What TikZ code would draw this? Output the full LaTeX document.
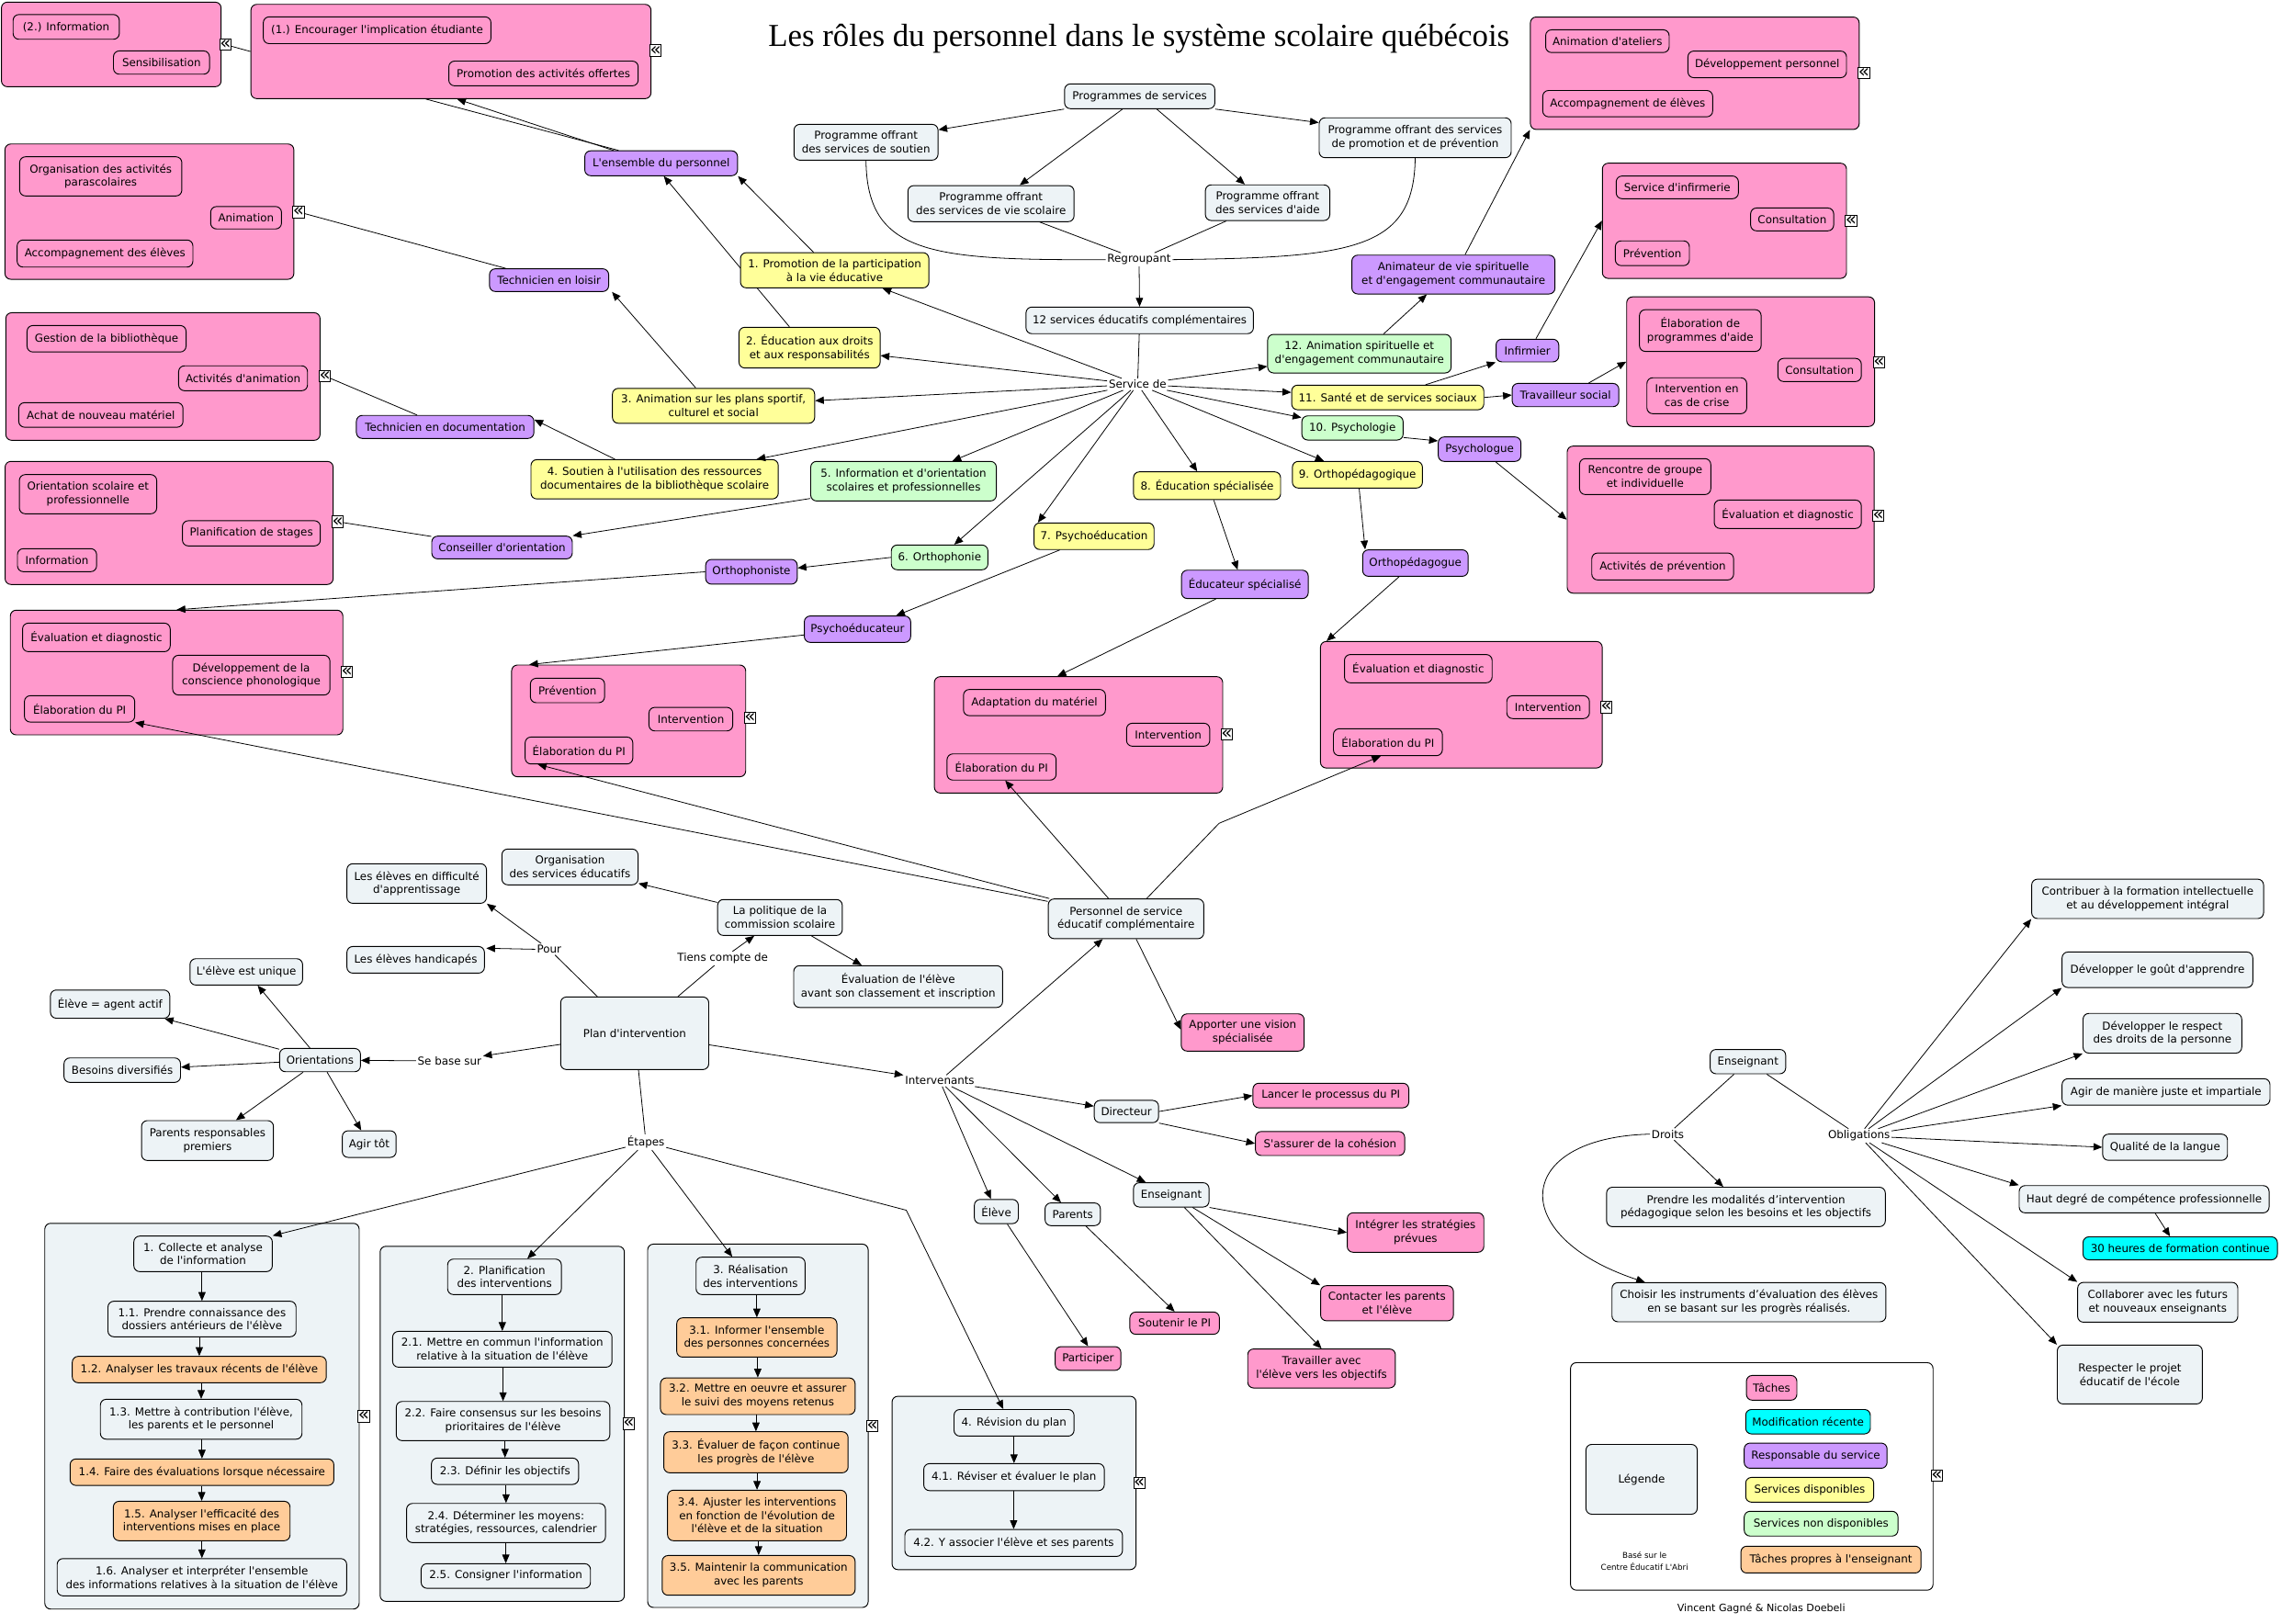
\documentclass[tikz,border=0pt]{standalone}
\usepackage{fontspec}
\setmainfont{DejaVu Sans}
\newfontfamily\titlefont{Liberation Serif}
\usetikzlibrary{arrows.meta,calc}
\pgfdeclarelayer{bg}
\pgfsetlayers{bg,main}
\definecolor{cgrey}{RGB}{237,243,246}
\definecolor{cpink}{RGB}{255,153,204}
\definecolor{cpurple}{RGB}{204,153,255}
\definecolor{cyellow}{RGB}{255,255,153}
\definecolor{cgreen}{RGB}{204,255,204}
\definecolor{corange}{RGB}{255,204,153}
\definecolor{ccyan}{RGB}{0,255,255}
\newcommand\ap{\textquotesingle}
\newcommand\bx[7]{%
  \pgfmathsetmacro\bxw{#5-#3}%
  \pgfmathsetmacro\bxh{#6-#4}%
  \pgfmathsetmacro\bxx{(#3+#5)/2}%
  \pgfmathsetmacro\bxy{(#4+#6)/2}%
  \node[#2,minimum width=\bxw pt,minimum height=\bxh pt] (#1) at (\bxx,\bxy) {#7};}
\newcommand\lb[4]{\node[lbl] (#1) at (#2,#3) {#4};}
\newcommand\ic[3]{\node[icon] (#1) at (#2,#3) {«};}
\newcommand\va[2]{\draw[arr] (#2.north |- #1.south) -- (#2.north);}
\tikzset{
  cpt/.style={draw, line width=0.6pt, rounded corners=4pt, align=center, inner xsep=2pt, inner ysep=1pt, fill=cgrey},
  pinkb/.style={cpt, fill=cpink},
  purb/.style={cpt, fill=cpurple},
  yelb/.style={cpt, fill=cyellow},
  grnb/.style={cpt, fill=cgreen},
  orab/.style={cpt, fill=corange},
  cyab/.style={cpt, fill=ccyan},
  cont/.style={cpt, fill=cpink},
  contg/.style={cpt, fill=cgrey},
  lbl/.style={inner sep=1pt},
  icon/.style={draw, fill=white, line width=0.5pt, inner sep=0pt, minimum width=7pt, minimum height=7.8pt, font=\fontsize{12.5}{12.5}\selectfont},
  arr/.style={line width=0.5pt, -{Triangle[length=6pt,width=5pt]}},
  ln/.style={line width=0.5pt}
}
\begin{document}
\begin{tikzpicture}[x=1pt,y=-1pt, every node/.style={font=\fontsize{7.5}{9.3}\selectfont}]
\useasboundingbox (0,0) rectangle (1568,1116);
\begin{pgfonlayer}{bg}
\fill[white] (0,0) rectangle (1568,1116);
\end{pgfonlayer}
% title
\node[font=\titlefont\fontsize{22}{26}\selectfont, anchor=base, inner sep=0pt] (title) at (782.9,31.6) {Les rôles du personnel dans le système scolaire québécois};
% ---------- top left
\bx{bA}{cont}{1}{1.5}{152}{59.6}{}
\bx{aInf}{pinkb}{9}{10}{82}{27}{(2.) Information}
\bx{aSen}{pinkb}{78}{35}{144}{51}{Sensibilisation}
\ic{icA}{155}{30.7}
\bx{bB}{cont}{172.5}{3}{447.5}{67.8}{}
\bx{bEnc}{pinkb}{181}{11.6}{337.5}{30}{(1.) Encourager l\ap implication étudiante}
\bx{bPro}{pinkb}{308.5}{42}{438.7}{59}{Promotion des activités offertes}
\ic{icB}{450.7}{34.7}
\bx{le}{purb}{402}{103.7}{507}{120.8}{L\ap ensemble du personnel}
\bx{bC}{cont}{3.4}{99}{202}{192}{}
\bx{cOrg}{pinkb}{13.5}{107.8}{125}{134.7}{Organisation des activités\\parascolaires}
\bx{cAni}{pinkb}{144.8}{142}{193.5}{157.4}{Animation}
\bx{cAcc}{pinkb}{11.8}{165}{132.6}{183.6}{Accompagnement des élèves}
\ic{icC}{205.2}{145.7}
\bx{tl}{purb}{336.5}{184.8}{418.4}{200.4}{Technicien en loisir}
\bx{bD}{cont}{4}{215}{220}{302.7}{}
\bx{dGes}{pinkb}{18.6}{223.8}{127.9}{242}{Gestion de la bibliothèque}
\bx{dAct}{pinkb}{122.8}{251.5}{211.4}{268.6}{Activités d\ap animation}
\bx{dAch}{pinkb}{12.9}{276.8}{125.8}{293.7}{Achat de nouveau matériel}
\ic{icD}{223.3}{258.5}
\bx{td}{purb}{245}{285.6}{367}{301.4}{Technicien en documentation}
\bx{bE}{cont}{3.5}{317.2}{229}{401.8}{}
\bx{eOri}{pinkb}{13.3}{326.3}{107.7}{353.2}{Orientation scolaire et\\professionnelle}
\bx{ePla}{pinkb}{125.4}{358}{220.2}{375.3}{Planification de stages}
\bx{eInf}{pinkb}{12}{377.2}{66.4}{393}{Information}
\ic{icE}{232.2}{358.7}
\bx{co}{purb}{296.8}{368.6}{393.4}{384.2}{Conseiller d\ap orientation}
\bx{bF}{cont}{7.1}{419.5}{235.7}{505.2}{}
\bx{fEva}{pinkb}{15.5}{428.4}{117}{448}{Évaluation et diagnostic}
\bx{fDev}{pinkb}{118.7}{450.5}{226.8}{477.8}{Développement de la\\conscience phonologique}
\bx{fEl}{pinkb}{16.8}{478.3}{92.6}{496.4}{Élaboration du PI}
\ic{icF}{238.5}{462}
\bx{oph}{purb}{485.1}{384.6}{548}{401.6}{Orthophoniste}
\bx{pse}{purb}{552.9}{423.5}{626}{441.6}{Psychoéducateur}
\bx{bG}{cont}{351.7}{457.2}{512.6}{534}{}
\bx{gPre}{pinkb}{364.6}{466.3}{415.6}{483.1}{Prévention}
\bx{gInt}{pinkb}{446.1}{486.3}{503.7}{502.5}{Intervention}
\bx{gEl}{pinkb}{361}{506.7}{435}{525.2}{Élaboration du PI}
\ic{icG}{515.5}{493.5}
\bx{bH}{cont}{642.3}{465.2}{840.5}{545.2}{}
\bx{hAda}{pinkb}{662.3}{474}{759.9}{492}{Adaptation du matériel}
\bx{hInt}{pinkb}{774.4}{497.2}{831.6}{513}{Intervention}
\bx{hEl}{pinkb}{651}{518.3}{726}{536.3}{Élaboration du PI}
\ic{icH}{843.3}{505}
\bx{bM}{cont}{907.7}{441}{1101.4}{528}{}
\bx{mEva}{pinkb}{924.2}{450}{1025.7}{469.4}{Évaluation et diagnostic}
\bx{mInt}{pinkb}{1035.8}{478.3}{1092.6}{494}{Intervention}
\bx{mEl}{pinkb}{916.6}{501}{991.5}{519.5}{Élaboration du PI}
\ic{icM}{1104.2}{486.1}
\bx{edu}{purb}{812.2}{392}{899.3}{411.5}{Éducateur spécialisé}
\bx{orp}{purb}{936.7}{378}{1009.2}{396.2}{Orthopédagogue}
% ---------- services
\bx{p1}{yelb}{509}{173.7}{638.5}{197.9}{1. Promotion de la participation\\à la vie éducative}
\bx{e2}{yelb}{508}{225}{605}{253}{2. Éducation aux droits\\et aux responsabilités}
\bx{a3}{yelb}{421}{267}{560}{291}{3. Animation sur les plans sportif,\\culturel et social}
\bx{s4}{yelb}{365}{316}{535}{343}{4. Soutien à l\ap utilisation des ressources\\documentaires de la bibliothèque scolaire}
\bx{i5}{grnb}{557.3}{317.2}{684.9}{344.4}{5. Information et d\ap orientation\\scolaires et professionnelles}
\bx{o6}{grnb}{612.7}{374.7}{679.1}{391.7}{6. Orthophonie}
\bx{p7}{yelb}{710.8}{359.5}{793.3}{377.8}{7. Psychoéducation}
\bx{e8}{yelb}{779.2}{324.4}{880.3}{343.5}{8. Éducation spécialisée}
\bx{o9}{yelb}{888.4}{317.2}{977.8}{335.5}{9. Orthopédagogique}
\bx{p10}{grnb}{894.9}{285.9}{964.5}{302.5}{10. Psychologie}
\bx{s11}{yelb}{887.9}{264.8}{1020}{281.7}{11. Santé et de services sociaux}
\bx{a12}{grnb}{871.4}{229.9}{997.5}{256.4}{12. Animation spirituelle et\\d\ap engagement communautaire}
\bx{anim}{purb}{929.3}{175.4}{1068.9}{202.1}{Animateur de vie spirituelle\\et d\ap engagement communautaire}
\bx{inf}{purb}{1028.4}{233.2}{1071.5}{248.8}{Infirmier}
\bx{ts}{purb}{1039.5}{263.6}{1112.8}{279.6}{Travailleur social}
\bx{psy}{purb}{988.7}{300.4}{1045.5}{317.2}{Psychologue}
\bx{bI}{cont}{1052}{11.7}{1278}{89}{}
\bx{iAni}{pinkb}{1062.5}{20.5}{1147.4}{36.1}{Animation d\ap ateliers}
\bx{iDev}{pinkb}{1160.3}{35.1}{1269.3}{53.4}{Développement personnel}
\bx{iAcc}{pinkb}{1060.5}{62.2}{1177.3}{80.3}{Accompagnement de élèves}
\ic{icI}{1281.2}{50.1}
\bx{bJ}{cont}{1101.5}{112.2}{1269.3}{191.4}{}
\bx{jSer}{pinkb}{1111}{121}{1195}{136.6}{Service d\ap infirmerie}
\bx{jCon}{pinkb}{1203.4}{143}{1260.5}{158.7}{Consultation}
\bx{jPre}{pinkb}{1110.4}{165.6}{1161.3}{182.6}{Prévention}
\ic{icJ}{1272.4}{151.9}
\bx{bK}{cont}{1118.2}{204.1}{1288.6}{293.2}{}
\bx{kEla}{pinkb}{1127}{212.9}{1210.6}{241.6}{Élaboration de\\programmes d\ap aide}
\bx{kCon}{pinkb}{1222.1}{246.4}{1279.5}{262.3}{Consultation}
\bx{kInt}{pinkb}{1132.1}{259.7}{1200.7}{284.4}{Intervention en\\cas de crise}
\ic{icK}{1291.6}{249.1}
\bx{bL}{cont}{1077.3}{306.7}{1288.3}{407.8}{}
\bx{lRen}{pinkb}{1085.8}{315.3}{1176}{340}{Rencontre de groupe\\et individuelle}
\bx{lEva}{pinkb}{1178.4}{343.8}{1279.5}{363.3}{Évaluation et diagnostic}
\bx{lAct}{pinkb}{1094.2}{380.2}{1191.7}{398.7}{Activités de prévention}
\ic{icL}{1291.2}{354.5}
\bx{s12}{cpt}{705.3}{211.1}{861.6}{229.4}{12 services éducatifs complémentaires}
\lb{rg}{783}{178.5}{Regroupant}
\lb{sd}{782}{264.2}{Service de}
\bx{ps}{cpt}{731.8}{57.7}{835.1}{74.7}{Programmes de services}
\bx{sou}{cpt}{545.8}{85.5}{644.8}{110.1}{Programme offrant\\des services de soutien}
\bx{vs}{cpt}{624.1}{127.6}{738.3}{152.4}{Programme offrant\\des services de vie scolaire}
\bx{aid}{cpt}{828.6}{127.1}{914.1}{151.6}{Programme offrant\\des services d\ap aide}
\bx{prom}{cpt}{906.8}{81}{1038.8}{108.4}{Programme offrant des services\\de promotion et de prévention}
% ---------- plan d'intervention
\bx{org}{cpt}{345}{583.7}{438.6}{608.3}{Organisation\\des services éducatifs}
\bx{dif}{cpt}{238.5}{593.8}{334.4}{621}{Les élèves en difficulté\\d\ap apprentissage}
\bx{han}{cpt}{238.5}{650.7}{333}{669}{Les élèves handicapés}
\bx{pol}{cpt}{493.3}{618.4}{579}{643.1}{La politique de la\\commission scolaire}
\bx{ev}{cpt}{545.6}{663.9}{689.2}{692.6}{Évaluation de l\ap élève\\avant son classement et inscription}
\bx{pi}{cpt}{385.4}{685.4}{487.2}{735.3}{Plan d\ap intervention}
\bx{uni}{cpt}{130.6}{659.1}{208}{677.2}{L\ap élève est unique}
\bx{ag}{cpt}{34.7}{680.6}{116.7}{700}{Élève = agent actif}
\bx{ori}{cpt}{192.2}{720.8}{247.8}{736.8}{Orientations}
\bx{bd}{cpt}{44}{727.3}{124.1}{744.1}{Besoins diversifiés}
\bx{prp}{cpt}{97.3}{770.4}{188}{797.8}{Parents responsables\\premiers}
\bx{agt}{cpt}{235.3}{777.4}{272.3}{795.7}{Agir tôt}
\lb{pour}{377.5}{652.6}{Pour}
\lb{tc}{496.8}{658.9}{Tiens compte de}
\lb{sb}{309}{729.4}{Se base sur}
\lb{itv}{646}{743}{Intervenants}
\lb{et}{444}{785.2}{Étapes}
\bx{pers}{cpt}{720.6}{618}{827.5}{645.3}{Personnel de service\\éducatif complémentaire}
\bx{app}{pinkb}{812}{697}{896.5}{722.6}{Apporter une vision\\spécialisée}
\bx{dir}{cpt}{752.2}{756.5}{796.4}{771.8}{Directeur}
\bx{lan}{pinkb}{861.3}{744.7}{968.4}{761.6}{Lancer le processus du PI}
\bx{sas}{pinkb}{863}{777.9}{965.6}{794.4}{S\ap assurer de la cohésion}
\bx{ens}{cpt}{779.2}{813.1}{831.1}{829.8}{Enseignant}
\bx{elv}{cpt}{669.8}{824.6}{700}{841.2}{Élève}
\bx{par}{cpt}{718.4}{827}{756.4}{842.6}{Parents}
\bx{int}{pinkb}{926.1}{833.8}{1020}{860.9}{Intégrer les stratégies\\prévues}
\bx{con}{pinkb}{907.8}{883.9}{999.1}{908}{Contacter les parents\\et l\ap élève}
\bx{spt}{pinkb}{776.7}{902}{838.2}{917.3}{Soutenir le PI}
\bx{ptc}{pinkb}{725.4}{925.8}{770.5}{942.1}{Participer}
\bx{trv}{pinkb}{857.7}{927.4}{959.2}{954.2}{Travailler avec\\l\ap élève vers les objectifs}
% ---------- etapes groups
\bx{g1}{contg}{30.8}{841}{246.9}{1106.2}{}
\ic{icG1}{250}{973.6}
\bx{c1}{cpt}{92}{849.8}{187.2}{874.2}{1. Collecte et analyse\\de l\ap information}
\bx{c11}{cpt}{74.2}{894.6}{203.5}{919}{1.1. Prendre connaissance des\\dossiers antérieurs de l\ap élève}
\bx{c12}{orab}{49.7}{932.5}{224.3}{950.6}{1.2. Analyser les travaux récents de l\ap élève}
\bx{c13}{cpt}{69}{962}{207.6}{989.4}{1.3. Mettre à contribution l\ap élève,\\les parents et le personnel}
\bx{c14}{orab}{48.2}{1003}{229.5}{1021.2}{1.4. Faire des évaluations lorsque nécessaire}
\bx{c15}{orab}{77.9}{1032.1}{199.4}{1059.2}{1.5. Analyser l\ap efficacité des\\interventions mises en place}
\bx{c16}{cpt}{39.3}{1071.5}{238.3}{1097.1}{1.6. Analyser et interpréter l\ap ensemble\\des informations relatives à la situation de l\ap élève}
\bx{g2}{contg}{261.3}{856.8}{429.2}{1100.9}{}
\ic{icG2}{432.2}{978.7}
\bx{c2}{cpt}{307.7}{865.6}{385.9}{890}{2. Planification\\des interventions}
\bx{c21}{cpt}{269.9}{915.3}{420.7}{939.9}{2.1. Mettre en commun l\ap information\\relative à la situation de l\ap élève}
\bx{c22}{cpt}{272.4}{963.5}{419.2}{990.4}{2.2. Faire consensus sur les besoins\\prioritaires de l\ap élève}
\bx{c23}{cpt}{296.6}{1002.4}{397.7}{1020.5}{2.3. Définir les objectifs}
\bx{c24}{cpt}{279.5}{1033.6}{416.2}{1060.5}{2.4. Déterminer les moyens:\\stratégies, ressources, calendrier}
\bx{c25}{cpt}{289.5}{1075}{405.9}{1091.9}{2.5. Consigner l\ap information}
\bx{g3}{contg}{445.2}{855.3}{596.8}{1105.1}{}
\ic{icG3}{599.7}{980.5}
\bx{c3}{cpt}{478.5}{864.3}{553.4}{890}{3. Réalisation\\des interventions}
\bx{c31}{orab}{465.2}{906}{575.3}{933}{3.1. Informer l\ap ensemble\\des personnes concernées}
\bx{c32}{orab}{454}{947.3}{587.8}{972.5}{3.2. Mettre en oeuvre et assurer\\le suivi des moyens retenus}
\bx{c33}{orab}{456.3}{984.3}{583}{1012.5}{3.3. Évaluer de façon continue\\les progrès de l\ap élève}
\bx{c34}{orab}{458.9}{1024.5}{581.9}{1059.2}{3.4. Ajuster les interventions\\en fonction de l\ap évolution de\\l\ap élève et de la situation}
\bx{c35}{orab}{455.2}{1069.4}{587.8}{1096.7}{3.5. Maintenir la communication\\avec les parents}
\bx{g4}{contg}{613.2}{959.9}{780.9}{1079.1}{}
\ic{icG4}{783.2}{1019.4}
\bx{c4}{cpt}{655.8}{969}{738.3}{987.3}{4. Révision du plan}
\bx{c41}{cpt}{635}{1006.2}{759.1}{1024.8}{4.1. Réviser et évaluer le plan}
\bx{c42}{cpt}{622}{1051.5}{771.6}{1070}{4.2. Y associer l\ap élève et ses parents}
% ---------- enseignant right
\bx{ens2}{cpt}{1175.6}{721.5}{1227.5}{738.2}{Enseignant}
\lb{dr}{1146.5}{779.7}{Droits}
\lb{ob}{1277.9}{780.8}{Obligations}
\bx{pre}{cpt}{1104.4}{816.2}{1296}{843.3}{Prendre les modalités d’intervention\\pédagogique selon les besoins et les objectifs}
\bx{cho}{cpt}{1108.1}{881.8}{1296.4}{908.7}{Choisir les instruments d’évaluation des élèves\\en se basant sur les progrès réalisés.}
\bx{ctb}{cpt}{1396.6}{604.4}{1556}{631.5}{Contribuer à la formation intellectuelle\\et au développement intégral}
\bx{gou}{cpt}{1417.5}{654.5}{1548.6}{678.9}{Développer le goût d\ap apprendre}
\bx{res}{cpt}{1431.9}{696.7}{1541}{724}{Développer le respect\\des droits de la personne}
\bx{agi}{cpt}{1417.5}{741.6}{1560.4}{759.8}{Agir de manière juste et impartiale}
\bx{qua}{cpt}{1445.4}{779.7}{1531.2}{797.7}{Qualité de la langue}
\bx{hd}{cpt}{1388}{815.1}{1559.8}{833.8}{Haut degré de compétence professionnelle}
\bx{h30}{cyab}{1431.9}{850.3}{1565.5}{866.1}{30 heures de formation continue}
\bx{col}{cpt}{1428.2}{881.6}{1538.3}{909}{Collaborer avec les futurs\\et nouveaux enseignants}
\bx{rsp}{cpt}{1414.2}{924.7}{1513.9}{965.2}{Respecter le projet\\éducatif de l\ap école}
% ---------- legend
\node[draw, line width=0.6pt, rounded corners=4pt, fill=white, minimum width=249.2pt, minimum height=156.4pt] (lg) at (1204.2,1015) {};
\ic{icLg}{1331.5}{1014.5}
\bx{leg}{cpt}{1090.2}{993}{1166.7}{1041}{Légende}
\bx{lT}{pinkb}{1200.5}{945.6}{1235.2}{962.6}{Tâches}
\bx{lM}{cyab}{1200}{969}{1285.7}{985.8}{Modification récente}
\bx{lR}{purb}{1199}{992.1}{1297.2}{1009.4}{Responsable du service}
\bx{lS}{yelb}{1200}{1015.7}{1288}{1032.7}{Services disponibles}
\bx{lN}{grnb}{1199}{1039}{1304.7}{1056}{Services non disponibles}
\bx{lO}{orab}{1196.7}{1063}{1320.5}{1081.4}{Tâches propres à l\ap enseignant}
\node[font=\fontsize{5.5}{7.8}\selectfont, align=center, inner sep=0pt] (base) at (1130.5,1073.3) {Basé sur le\\Centre Éducatif L\ap Abri};
\node[font=\fontsize{7}{8}\selectfont, inner sep=0pt] (auth) at (1210.7,1105.6) {Vincent Gagné \& Nicolas Doebeli};
\coordinate (bendM) at (838,566);
\coordinate (bend4) at (623,832);
% ---------- connectors passing behind boxes
\begin{pgfonlayer}{bg}
\draw[arr] ($(e2.north west)+(35,0)$) -- ($(le.south west)+(54.6,0)$);
\end{pgfonlayer}
% ---------- connectors
\draw[ln] (bB.west) -- (icA);
\draw[ln] ($(le.north west)+(23.5,0)$) -- ($(bB.south west)+(120.5,0)$);
\draw[arr] ($(le.north west)+(20,0)$) -- ($(bB.south west)+(142,0)$);
\draw[arr] ($(p1.north west)+(50.5,0)$) -- (le.south east);
\draw[ln] (tl) -- (icC);
\draw[arr] ($(a3.north west)+(57.6,0)$) -- ($(tl.south east)+(2,0)$);
\draw[ln] (td) -- (icD);
\draw[arr] ($(s4.north west)+(58,0)$) -- ($(td.east)+(0,-5)$);
\draw[ln] (co) -- (icE);
\draw[arr] ($(i5.south west)+(0,-2)$) -- (co.north east);
\draw[arr] (o6.west) -- ($(oph.east)+(0,-2.6)$);
\draw[arr] (oph.west) -- (bF.north);
\draw[arr] ($(p7.south west)+(18,0)$) -- ($(pse.north east)+(-10.3,0)$);
\draw[arr] ($(pse.west)+(0,4)$) -- ($(bG.north west)+(12.4,0)$);
\draw[arr] ($(e8.south)+(4.6,0)$) -- ($(edu.north)+(-5,0)$);
\draw[arr] ($(edu.south)+(-20,0)$) -- ($(bH.north)+(-14.5,0)$);
\draw[arr] ($(o9.south)+(1.2,0)$) -- ($(orp.north west)+(2,0)$);
\draw[arr] ($(orp.south)+(-11.2,0)$) -- ($(bM.north west)+(4.5,0)$);
\draw[arr] ($(p10.south east)+(0,-2)$) -- ($(psy.west)+(0,-5.7)$);
\draw[arr] ($(psy.south)+(11,0)$) -- (bL.west);
\draw[arr] (s11.east) -- (ts.west);
\draw[arr] ($(s11.north)+(26,0)$) -- (inf.south west);
\draw[arr] ($(ts.north east)+(-21,0)$) -- (bK.west);
\draw[arr] ($(inf.north east)+(-16,0)$) -- (bJ.west);
\draw[arr] ($(a12.north)+(16.6,0)$) -- ($(anim.south)+(-18.3,0)$);
\draw[arr] ($(anim.north)+(8,0)$) -- (bI.south west);
% programmes
\draw[arr] (ps.south west) -- ($(sou.north east)+(0,4)$);
\draw[arr] ($(ps.south)+(-11.8,0)$) -- ($(vs.north)+(19.8,0)$);
\draw[arr] ($(ps.south)+(11.7,0)$) -- ($(aid.north)+(-15.6,0)$);
\draw[arr] (ps.south east) -- ($(prom.north west)+(0,3.6)$);
\draw[ln] (sou.south) .. controls (596,175) and (640,179) .. (rg.west);
\draw[ln] (prom.south) .. controls (972,172) and (930,177) .. (rg.east);
\draw[ln] (vs) -- (rg);
\draw[ln] (aid) -- (rg);
\draw[arr] (rg) -- (s12);
\draw[ln] (s12) -- (sd);
\foreach \t in {p1,e2,a3,s4,i5,o6,e8,o9,p10,s11,a12} \draw[arr] (sd) -- (\t);
\draw[arr] (sd) -- ($(p7.north west)+(3,0)$);
% personnel
\draw[arr] ($(pers.north west)+(0,2)$) -- (fEl.south east);
\draw[arr] ($(pers.north west)+(1,0)$) -- ($(gEl.south west)+(9,0)$);
\draw[arr] ($(pers.north)+(-12,0)$) -- ($(hEl.south)+(2.5,0)$);
\draw[arr] ($(pers.north)+(14.2,0)$) -- (bendM) -- ($(mEl.south)+(-5,0)$);
\draw[arr] ($(pers.south)+(7,0)$) -- ($(app.west)+(0,-2)$);
% plan
\draw[ln] (pi) -- (pour);
\draw[arr] (pour) -- (dif.south east);
\draw[arr] (pour.west) -- ($(han.north east)+(1,1.5)$);
\draw[ln] (pi) -- (tc);
\draw[arr] (tc) -- (pol);
\draw[arr] (pol) -- (org);
\draw[arr] (pol) -- (ev);
\draw[arr] (pi) -- (sb);
\draw[arr] (sb) -- (ori);
\draw[arr] (pi) -- (itv);
\draw[ln] (pi) -- (et);
\foreach \t in {uni,ag,bd,prp,agt} \draw[arr] (ori) -- (\t);
\draw[arr] (itv) -- (pers);
\foreach \t in {dir,ens,par,elv} \draw[arr] (itv) -- (\t);
\draw[arr] (dir.east) -- (lan.west);
\draw[arr] (dir.south east) -- (sas.west);
\draw[arr] (ens.south east) -- (int.west);
\draw[arr] ($(ens.south)+(14.65,0)$) -- (con.north west);
\draw[arr] ($(ens.south)+(9,0)$) -- (trv.north);
\draw[arr] ($(par.south)+(9,0)$) -- (spt.north);
\draw[arr] ($(elv.south)+(7.5,0)$) -- (ptc.north);
% etapes
\draw[arr] (et) -- (c1.north east);
\draw[arr] (et) -- ($(c2.north)+(15.7,0)$);
\draw[arr] (et) -- ($(c3.north)+(-12.6,0)$);
\draw[arr] (et) -- (bend4) -- ($(c4.north)+(-7.4,0)$);
\va{c1}{c11}\va{c11}{c12}\va{c12}{c13}\va{c13}{c14}\va{c14}{c15}\va{c15}{c16}
\va{c2}{c21}\va{c21}{c22}\va{c22}{c23}\va{c23}{c24}\va{c24}{c25}
\va{c3}{c31}\va{c31}{c32}\va{c32}{c33}\va{c33}{c34}\va{c34}{c35}
\va{c4}{c41}\va{c41}{c42}
% enseignant right
\draw[ln] (ens2) -- (dr);
\draw[ln] (ens2) -- (ob);
\draw[arr] (dr) -- ($(pre.north)+(-15.6,0)$);
\draw[arr] (dr.west) .. controls (1040,782) and (1035,850) .. ($(cho.north west)+(23,0)$);
\draw[arr] (ob) -- (ctb.south west);
\draw[arr] (ob) -- (gou.south west);
\draw[arr] (ob) -- (res.south west);
\draw[arr] (ob) -- (agi.south west);
\draw[arr] (ob) -- (qua.west);
\draw[arr] (ob) -- (hd.north west);
\draw[arr] (ob) -- (col.north west);
\draw[arr] (ob) -- (rsp.north west);
\draw[arr] ($(hd.south)+(7.6,0)$) -- ($(h30.north)+(-7,0)$);
\end{tikzpicture}
\end{document}
